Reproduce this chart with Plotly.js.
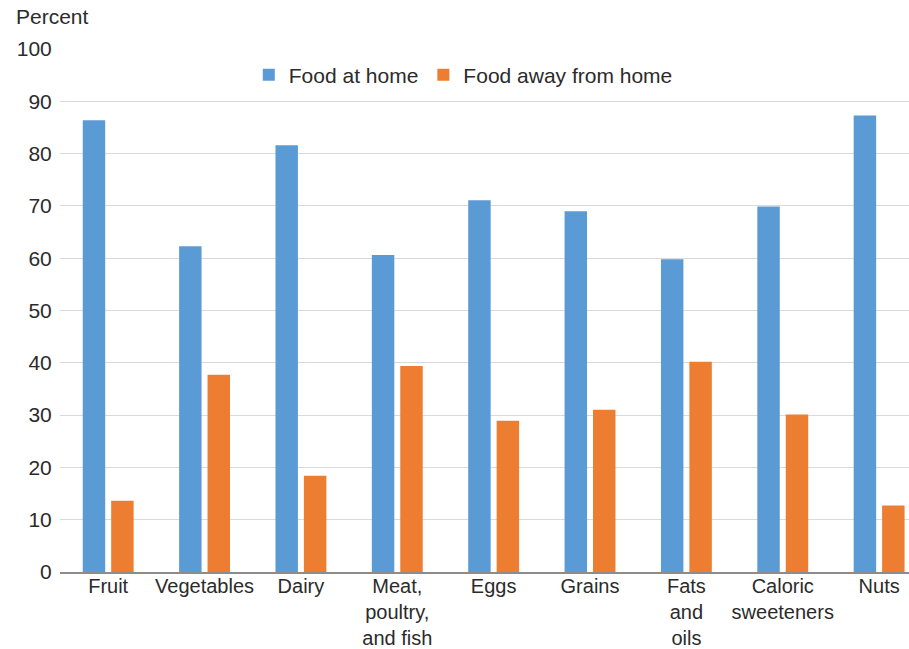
<!DOCTYPE html>
<html>
<head>
<meta charset="utf-8">
<script src="https://cdn.plot.ly/plotly-3.0.1.min.js"></script>
<style>html,body{margin:0;padding:0;background:#fff;}#chart{width:909px;height:649px;}</style>
</head>
<body>
<div id="chart"></div>
<script>
const categories = ["Fruit", "Vegetables", "Dairy", "Meat,<br>poultry,<br>and fish", "Eggs", "Grains", "Fats<br>and<br>oils", "Caloric<br>sweeteners", "Nuts"];
const foodAtHome = [86.4, 62.3, 81.6, 60.6, 71.1, 69.0, 59.8, 69.9, 87.3];
const foodAwayFromHome = [13.6, 37.7, 18.4, 39.4, 28.9, 31.0, 40.2, 30.1, 12.7];
const yTicks = [0, 10, 20, 30, 40, 50, 60, 70, 80, 90, 100];

const font = {family: "Liberation Sans, Arial, sans-serif", size: 21, color: "#2b2b2b"};
const xFont = {family: "Liberation Sans, Arial, sans-serif", size: 20, color: "#2b2b2b"};

const data = [
  {type: "bar", name: "Food at home", x: categories, y: foodAtHome, marker: {color: "#5B9BD5"}},
  {type: "bar", name: "Food away from home", x: categories, y: foodAwayFromHome, marker: {color: "#ED7D31"}}
];

const layout = {
  width: 909, height: 649,
  margin: {l: 60, r: 0, t: 49, b: 77},
  paper_bgcolor: "#ffffff", plot_bgcolor: "#ffffff",
  font: font,
  barmode: "group",
  bargap: 0.41,
  bargroupgap: 0.21,
  showlegend: true,
  legend: {orientation: "h", x: 0.475, xanchor: "center", y: 0.95, yanchor: "middle", font: font, itemwidth: 30, bgcolor: "rgba(0,0,0,0)"},
  xaxis: {
    type: "category", range: [-0.5, 8.31], showgrid: false, showline: true,
    linecolor: "#8c8c8c", linewidth: 1.5, ticks: "", tickfont: xFont, fixedrange: true,
    ticklabelstandoff: -5
  },
  yaxis: {
    range: [0, 100], tickvals: yTicks, ticktext: yTicks.map(String), showgrid: true,
    gridcolor: "#d9d9d9", gridwidth: 1, zeroline: false, showline: false,
    ticks: "outside", ticklen: 3, tickcolor: "rgba(0,0,0,0)", tickfont: font
  },
  annotations: [{
    text: "Percent", xref: "paper", yref: "paper", x: -46/849, y: 1 + 33/523,
    xanchor: "left", yanchor: "middle", showarrow: false, font: font
  }]
};

Plotly.newPlot("chart", data, layout, {displayModeBar: false, staticPlot: true});
</script>
</body>
</html>
